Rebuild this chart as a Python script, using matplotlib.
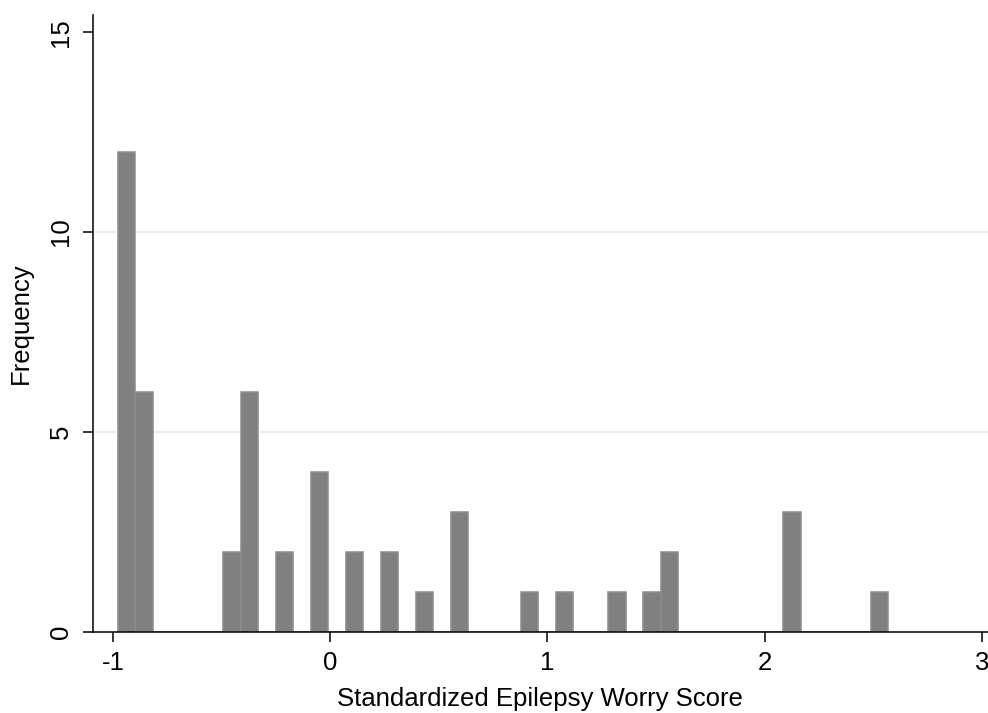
import numpy as np
import matplotlib
matplotlib.use('Agg')
import matplotlib.pyplot as plt

# Histogram of standardized worry scores (bins)
bin_start = -0.977
bin_width = 0.0806
counts = [12, 6, 0, 0, 0, 0, 2, 6, 0, 2, 0, 4, 0, 2, 0, 2, 0, 1, 0, 3,
          0, 0, 0, 1, 0, 1, 0, 0, 1, 0, 1, 2, 0, 0, 0, 0, 0, 0, 3, 0,
          0, 0, 0, 1]
x_ticks = [-1, 0, 1, 2, 3]
y_ticks = [0, 5, 10, 15]
grid_levels = [5, 10]

plt.rcParams['font.family'] = ['Liberation Sans', 'DejaVu Sans']

fig = plt.figure(figsize=(9.88, 7.13), dpi=100)
ax = fig.add_axes([0.0938, 0.1136, 0.9062, 0.8654])

# light Stata-style gridlines, only inside the plot
for lev in grid_levels:
    ax.axhline(lev, color='#eaf0f1', lw=1.6, zorder=0)

edges = bin_start + bin_width * np.arange(len(counts))
ax.bar(edges, counts, width=bin_width, align='edge', color='#808080',
       edgecolor='#8c8c8c', linewidth=1.1, zorder=2)

ax.set_xlim(-1.0935, 3.028)
ax.set_ylim(0, 15.43)
ax.set_xticks(x_ticks)
ax.set_yticks(y_ticks)
ax.set_xticklabels([str(t) for t in x_ticks])
ax.set_yticklabels([str(t) for t in y_ticks], rotation=90, va='center')

for side in ['top', 'right']:
    ax.spines[side].set_visible(False)
for side in ['left', 'bottom']:
    ax.spines[side].set_linewidth(1.1)
    ax.spines[side].set_color('black')

ax.tick_params(axis='both', length=7.5, width=1.1, labelsize=18.5, color='black')
ax.tick_params(axis='x', pad=6)
ax.tick_params(axis='y', pad=7)

ax.set_xlabel('Standardized Epilepsy Worry Score', fontsize=18.5, labelpad=9)
ax.set_ylabel('Frequency', fontsize=18.5, labelpad=11)

fig.savefig('out.png', dpi=100)
